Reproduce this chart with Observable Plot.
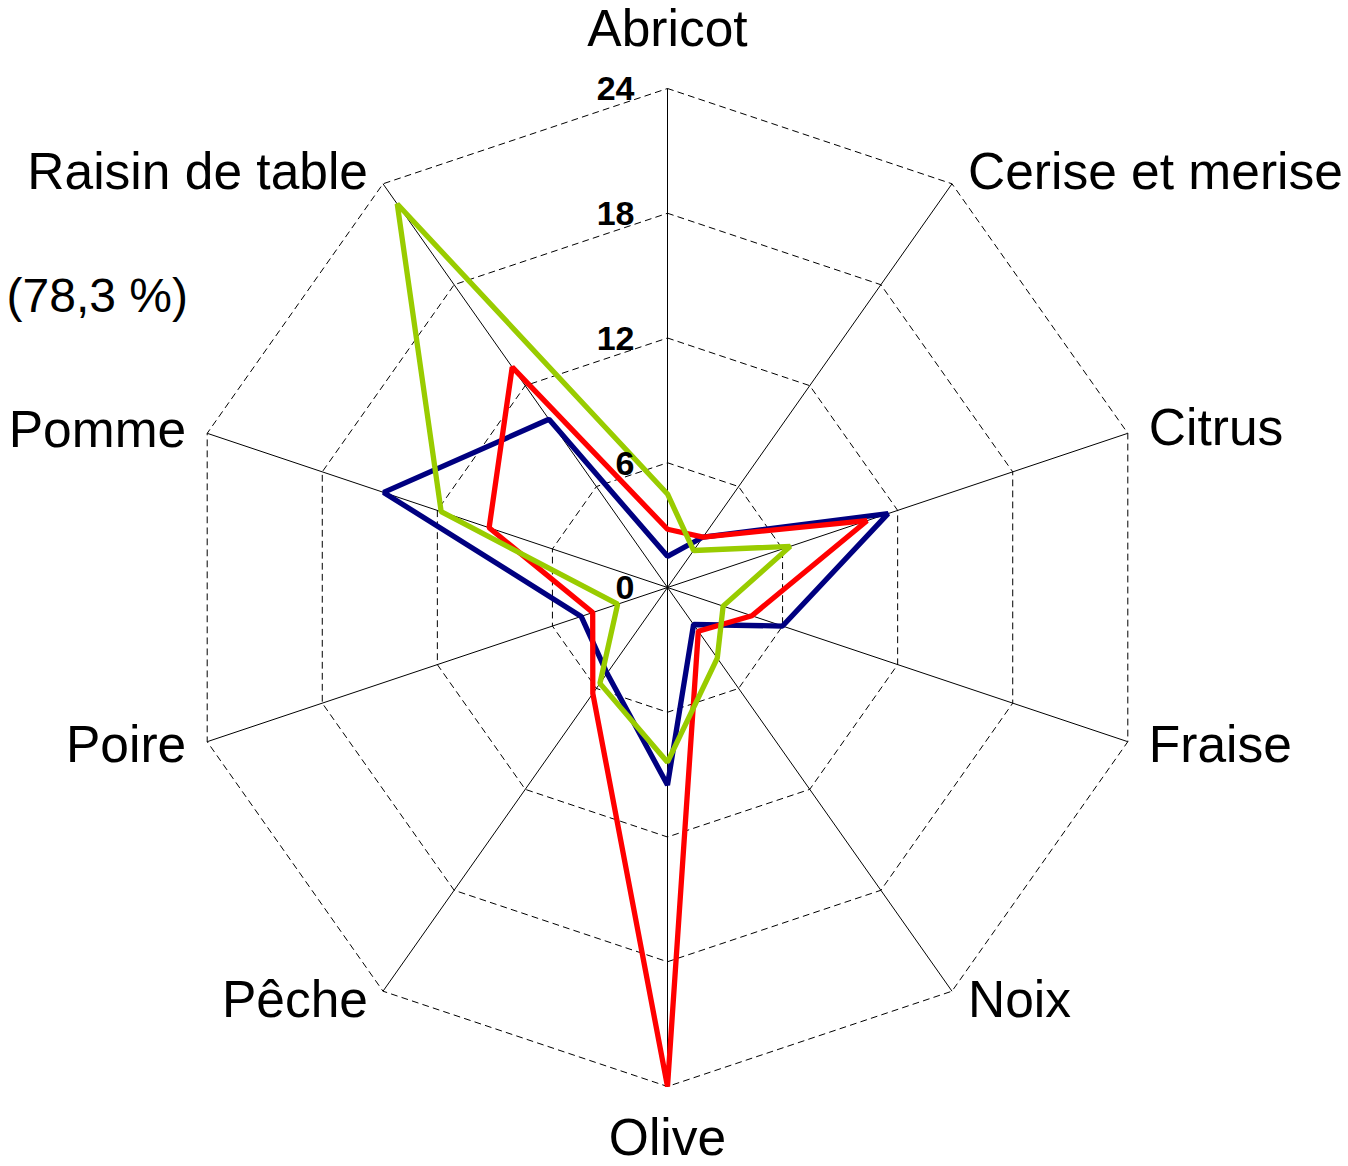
<!DOCTYPE html>
<html><head><meta charset="utf-8">
<script src="https://cdn.jsdelivr.net/npm/d3@7"></script>
<script src="https://cdn.jsdelivr.net/npm/@observablehq/plot@0.6"></script>
<style>body{margin:0;background:#fff;}</style>
</head><body><div id="chart"></div>
<script>
// ---- data ----
const categories = ["Abricot","Cerise et merise","Citrus","Fraise","Noix","Olive","Pêche","Poire","Pomme","Raisin de table"];
const seriesBlue  = [1.5, 3.0, 11.5, 6.0, 2.2, 9.5, 5.1, 4.5, 14.8, 10.0];
const seriesRed   = [2.8, 3.0, 10.4, 4.4, 2.6, 24.0, 6.3, 3.9, 9.3, 13.1];
const seriesGreen = [4.5, 2.2, 6.4, 2.9, 4.2, 8.4, 5.7, 2.6, 11.8, 22.8];
const seriesNames = ["Série 1", "Série 2", "Série 3"];
const tickValues = [0, 6, 12, 18, 24];
const note = "(78,3 %)";

// ---- layout / style (kept apart from data) ----
const seriesColors = ["#000080", "#FF0000", "#99CC00"];
const labelLayout = [
  {dx: 0,   dy: -59, anchor: "middle"},
  {dx: 16,  dy: -11, anchor: "start"},
  {dx: 21,  dy: -5,  anchor: "start"},
  {dx: 21,  dy: 4,   anchor: "start"},
  {dx: 16,  dy: 9,   anchor: "start"},
  {dx: 0,   dy: 52,  anchor: "middle"},
  {dx: -15, dy: 9,   anchor: "end"},
  {dx: -21, dy: 4,   anchor: "end"},
  {dx: -21, dy: -3,  anchor: "end"},
  {dx: -15, dy: -11, anchor: "end"}
];

const n = categories.length;
const maxV = d3.max(tickValues);
const ang = i => (i * 2 * Math.PI) / n;
const px = (v, i) => v * Math.sin(ang(i));
const py = (v, i) => v * Math.cos(ang(i));

const gridData = tickValues.filter(t => t > 0).flatMap(t =>
  categories.map((c, i) => ({level: t, x: px(t, i), y: py(t, i)})));
const spokes = categories.map((c, i) => ({x1: 0, y1: 0, x2: px(maxV, i), y2: py(maxV, i)}));
const seriesValues = [seriesBlue, seriesRed, seriesGreen];
const seriesData = seriesValues.flatMap((vals, s) =>
  vals.map((v, i) => ({series: seriesNames[s], x: px(v, i), y: py(v, i)})));
const ticks = tickValues.map(t => ({t, x: 0, y: t}));

const font = "'Liberation Sans', Arial, Helvetica, sans-serif";

const marks = [
  Plot.line(gridData, {x: "x", y: "y", z: "level", curve: "linear-closed",
    stroke: "#000", strokeWidth: 1, strokeDasharray: "6,5"}),
  Plot.link(spokes, {x1: "x1", y1: "y1", x2: "x2", y2: "y2", stroke: "#000", strokeWidth: 1}),
  ...seriesNames.map((name, s) =>
    Plot.line(seriesData.filter(d => d.series === name), {x: "x", y: "y", curve: "linear-closed",
      stroke: seriesColors[s], strokeWidth: 5.3, strokeLinejoin: "miter"})),
  Plot.text(ticks, {x: "x", y: "y", text: d => String(d.t), dx: -33, dy: 1,
    textAnchor: "end", fontWeight: "bold", fontSize: 34, fill: "#000"}),
  ...categories.map((c, i) => Plot.text([{c, x: px(maxV, i), y: py(maxV, i)}], {
    x: "x", y: "y", text: "c", dx: labelLayout[i].dx, dy: labelLayout[i].dy,
    textAnchor: labelLayout[i].anchor, fontSize: 51.5, fill: "#000"})),
  Plot.text([note], {frameAnchor: "top-left", text: d => d, dx: 6, dy: 296,
    textAnchor: "start", lineAnchor: "middle", fontSize: 48, fill: "#000"})
];

const chart = Plot.plot({
  width: 1348, height: 1166, margin: 0,
  x: {domain: [-maxV, maxV], range: [183, 1151], axis: null},
  y: {domain: [-maxV, maxV], range: [1086, 88], axis: null},
  style: {fontFamily: font, background: "#fff", overflow: "visible"},
  marks
});
document.getElementById("chart").appendChild(chart);
</script>
</body></html>
